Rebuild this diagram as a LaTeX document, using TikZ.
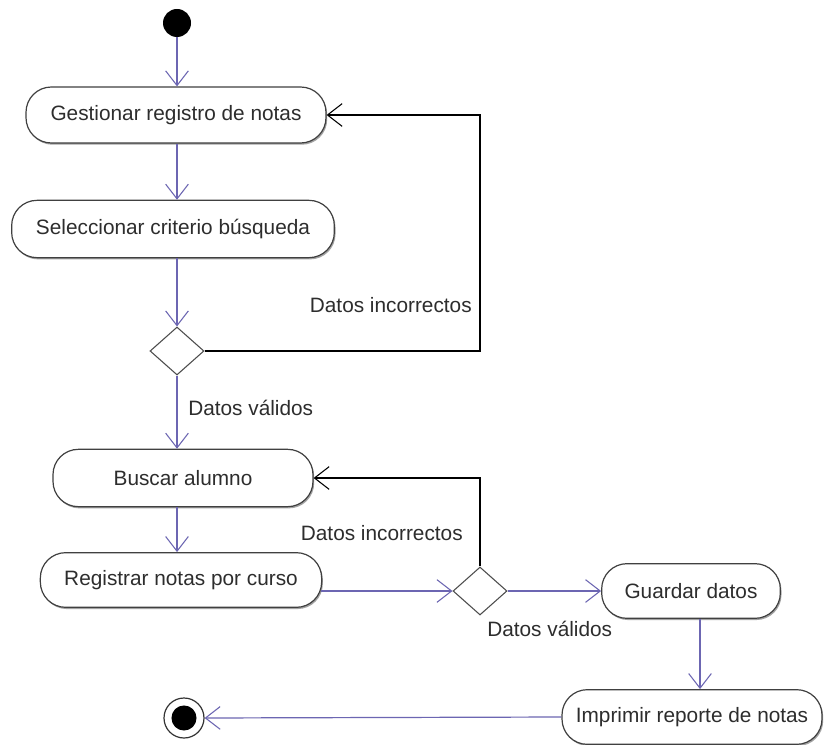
\documentclass[tikz,border=0pt]{standalone}
\usepackage{fontspec}
\setmainfont{Liberation Sans}
\usetikzlibrary{arrows.meta,shapes.geometric,shadows,calc}

\definecolor{flow}{RGB}{108,102,178}
\definecolor{txt}{RGB}{45,45,45}

\tikzset{
  activity/.style={rectangle, rounded corners=19pt, draw=black!75, line width=0.9pt,
    fill=white, text=txt, inner sep=0pt,
    drop shadow={shadow xshift=0.9pt, shadow yshift=-1.3pt, fill=black!60, opacity=0.6},
    font=\fontsize{15.6}{18}\selectfont},
  decision/.style={diamond, draw=black!70, line width=0.8pt, fill=white, inner sep=0pt,
    minimum width=40.5pt, minimum height=36pt},
  flowline/.style={draw=flow, line width=0.9pt,
    -{Straight Barb[length=11pt,width=17pt,line width=0.8pt]}},
  backline/.style={draw=black, line width=0.8pt,
    -{Straight Barb[length=11pt,width=17pt,line width=0.8pt]}},
  guard/.style={text=txt, inner sep=0pt, font=\fontsize{15.6}{18}\selectfont},
}

\begin{document}
\begin{tikzpicture}[x=0.75pt,y=-0.75pt]
  \useasboundingbox (0,0) rectangle (827,745);
  \fill[white] (0,0) rectangle (827,745);

  % start and end states
  \node[circle, fill=black, minimum size=21pt, inner sep=0pt] (start) at (177,23) {};
  \node[circle, draw=black!80, line width=0.9pt, fill=white, minimum size=30pt, inner sep=0pt] (final) at (184,718) {};
  \fill[black] (final.center) circle (9.4pt);

  % activities
  \node[activity, minimum width=225pt, minimum height=42pt] (g1) at (176,115) {Gestionar registro de notas};
  \node[activity, minimum width=242pt, minimum height=43pt] (s1) at (173,229) {Seleccionar criterio búsqueda};
  \node[activity, minimum width=195pt, minimum height=43pt] (b1) at (183,478) {Buscar alumno};
  \node[activity, minimum width=211pt, minimum height=41pt] (r1) at (181,580) {Registrar notas por curso};
  \node[activity, minimum width=134pt, minimum height=41pt] (gd) at (691,591) {Guardar datos};
  \node[activity, minimum width=195pt, minimum height=41pt] (im) at (692,717) {Imprimir reporte de notas};

  % decisions
  \node[decision] (d1) at (177,351) {};
  \node[decision] (d2) at (480,591) {};

  % corners of the return loops
  \coordinate (k1) at (480,115);
  \coordinate (k2) at (480,478);

  % main flow
  \draw[flowline] (start) -- (start |- g1.north);
  \draw[flowline] (g1.south -| d1) -- (s1.north -| d1);
  \draw[flowline] (s1.south -| d1) -- (d1.north);
  \draw[flowline] (d1.south) -- (d1 |- b1.north);
  \draw[flowline] (b1.south -| d1) -- (r1.north -| d1);
  \draw[flowline] ([xshift=-1pt]r1.east |- d2) -- (d2.west);
  \draw[flowline] (d2.east) -- (gd.west);
  \draw[flowline] ([xshift=6.75pt]gd.south) -- ([xshift=6.75pt]gd.south |- im.north);
  \draw[flowline] (im.west) -- (final.east);

  % return loops
  \draw[backline] (d1.east) -| (k1) -- (g1.east);
  \draw[backline] (d2.north) -- (k2) -- (b1.east);

  % guard labels
  \node[guard, anchor=east] (l1) at (472,305) {Datos incorrectos};
  \node[guard, anchor=west] (l2) at (188,408) {Datos válidos};
  \node[guard, anchor=east] (l3) at (463,533) {Datos incorrectos};
  \node[guard, anchor=west] (l4) at (487,629) {Datos válidos};
\end{tikzpicture}
\end{document}
